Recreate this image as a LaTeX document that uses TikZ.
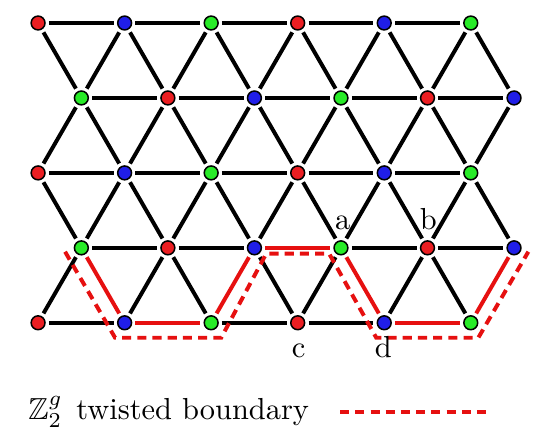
\documentclass[tikz,border=0pt]{standalone}
\usepackage{amsmath,amssymb}
\usepackage{tikz}
\usetikzlibrary{calc}
\definecolor{sitered}{RGB}{235,30,34}
\definecolor{siteblue}{RGB}{32,30,232}
\definecolor{sitegreen}{RGB}{40,235,40}
\definecolor{twistred}{RGB}{230,16,16}
\colorlet{col0}{sitered}
\colorlet{col1}{siteblue}
\colorlet{col2}{sitegreen}

\begin{document}
\begin{tikzpicture}[x=1cm,y=1cm,
  site/.style={circle,draw=black,line width=0.5pt,inner sep=0pt,minimum size=0.16cm,outer sep=0.045cm},
  bond/.style={line width=1.3pt},
  twistbond/.style={line width=1.3pt,twistred},
  twistdash/.style={line width=1.3pt,twistred,dash pattern=on 3pt off 2pt}]
  \useasboundingbox (-0.44,-1.42) rectangle (5.80,3.73);
  % triangular lattice sites, three colours
  \foreach \j in {0,...,4} {
    \foreach \i in {0,...,5} {
      \pgfmathtruncatemacro\c{mod(\i+2*mod(\j,2),3)}
      \pgfmathsetmacro\xx{\i+0.5*mod(\j,2)}
      \node[site,fill=col\c] (s\j-\i) at (\xx,\j*0.866) {};
    }
  }
  % horizontal bonds
  \foreach \j in {0,...,4} {
    \foreach \i in {0,...,4} {
      \pgfmathtruncatemacro\k{\i+1}
      \pgfmathtruncatemacro\isred{(\j==0 && (\i==1 || \i==4)) || (\j==1 && \i==2)}
      \ifnum\isred=0 \draw[bond] (s\j-\i) -- (s\j-\k); \fi
    }
  }
  % diagonal bonds from the shifted rows
  \foreach \j in {1,3} {
    \foreach \i in {0,...,5} {
      \pgfmathtruncatemacro\k{\i+1}
      \pgfmathtruncatemacro\jm{\j-1}
      \pgfmathtruncatemacro\jp{\j+1}
      \pgfmathtruncatemacro\redleft{\j==1 && (\i==2 || \i==5)}
      \pgfmathtruncatemacro\redright{\j==1 && (\i==0 || \i==3)}
      \ifnum\redleft=0 \draw[bond] (s\j-\i) -- (s\jm-\i); \fi
      \draw[bond] (s\j-\i) -- (s\jp-\i);
      \ifnum\k<6
        \ifnum\redright=0 \draw[bond] (s\j-\i) -- (s\jm-\k); \fi
        \draw[bond] (s\j-\i) -- (s\jp-\k);
      \fi
    }
  }
  % twisted bonds
  \draw[twistbond] (s1-0) -- (s0-1);
  \draw[twistbond] (s0-1) -- (s0-2);
  \draw[twistbond] (s0-2) -- (s1-2);
  \draw[twistbond] (s1-2) -- (s1-3);
  \draw[twistbond] (s1-3) -- (s0-4);
  \draw[twistbond] (s0-4) -- (s0-5);
  \draw[twistbond] (s0-5) -- (s1-5);
  % boundary line
  \draw[twistdash] (0.312,0.821) -- (0.890,-0.173) -- (2.116,-0.173) -- (2.636,0.798)
    -- (3.364,0.798) -- (3.908,-0.173) -- (5.087,-0.173) -- (5.665,0.821);
  % labels
  \node[anchor=base] (la) at ($(s1-3)+(0.02,0.21)$) {a};
  \node[anchor=base] (lb) at ($(s1-4)+(0.01,0.21)$) {b};
  \node[anchor=base] (lc) at ($(s0-3)+(0.01,-0.40)$) {c};
  \node[anchor=base] (ld) at ($(s0-4)+(-0.01,-0.40)$) {d};
  % legend
  \node[anchor=base west,inner sep=0pt] (legtext) at (-0.12,-1.12) {$\mathbb{Z}_2^g$\hspace{0.45em}twisted boundary};
  \coordinate (leg1) at (3.49,-1.03);
  \coordinate (leg2) at (5.20,-1.03);
  \draw[twistdash] (leg1) -- (leg2);
\end{tikzpicture}
\end{document}
